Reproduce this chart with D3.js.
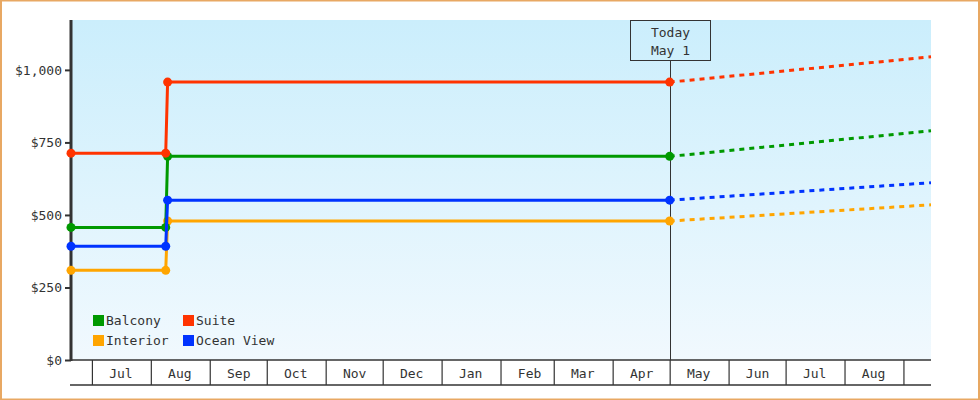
<!DOCTYPE html>
<html>
<meta charset="utf-8">
<style>
body { margin: 0; background: #fff; }
text { font-family: "DejaVu Sans Mono", monospace; font-size: 13px; fill: #333; }
</style>
<script src="https://d3js.org/d3.v7.min.js"></script>
<body>
<div id="chart"></div>
<script>
// price history per cabin type (step in early August) and projection past today
var seriesNames = ["Interior", "Balcony", "Ocean View", "Suite"];
var seriesColors = ["#ffa500", "#009900", "#0033ff", "#ff3300"];
var histDates = [new Date(2022, 5, 20), new Date(2022, 7, 8, 20), new Date(2022, 7, 9, 20), new Date(2023, 4, 1)];
var interiorVals = [309, 309, 479, 479];
var balconyVals = [457, 457, 702, 702];
var oceanVals = [392, 392, 551, 551];
var suiteVals = [713, 713, 958, 958];
var projEndVals = [535, 790, 611, 1045];
var yTicks = [0, 250, 500, 750, 1000];
var todayDate = new Date(2023, 4, 1);
var todayLabel = ["Today", "May 1"];
var legendOrder = ["Balcony", "Suite", "Interior", "Ocean View"];

var histVals = [interiorVals, balconyVals, oceanVals, suiteVals];

var W = 980, H = 400;
var pLeft = 71, pRight = 931, pTop = 20, pBottom = 360;
var startDate = new Date(2022, 5, 20), endDate = new Date(2023, 8, 15, 12);

var svg = d3.select("#chart").append("svg")
  .attr("width", W).attr("height", H);

var grad = svg.append("defs").append("linearGradient")
  .attr("id", "bg").attr("x1", 0).attr("y1", 0).attr("x2", 0).attr("y2", 1);
grad.append("stop").attr("offset", "0%").attr("stop-color", "#cbeefc");
grad.append("stop").attr("offset", "100%").attr("stop-color", "#f1f9fe");

svg.append("rect").attr("x", 1).attr("y", 0.5).attr("width", W - 2).attr("height", H - 1)
  .attr("fill", "#fff").attr("stroke", "#e8a863").attr("stroke-width", 2);

var x = d3.scaleTime().domain([startDate, endDate]).range([pLeft, pRight]);
var y = d3.scaleLinear().domain([0, 1172]).range([pBottom, pTop]);

svg.append("rect").attr("x", pLeft).attr("y", pTop)
  .attr("width", pRight - pLeft).attr("height", pBottom - pTop)
  .attr("fill", "url(#bg)");

// x axis: month separators + labels
var monthStarts = d3.timeMonth.range(new Date(2022, 6, 1), new Date(2023, 8, 2));
var midMonths = monthStarts.slice(0, -1).map(function(d) { return new Date(d.getFullYear(), d.getMonth(), 16); });

var xa = svg.append("g").attr("transform", "translate(0," + pBottom + ")")
  .call(d3.axisBottom(x).tickValues(monthStarts).tickSize(25).tickFormat(""));
xa.select(".domain").remove();
xa.selectAll(".tick line").attr("stroke", "#333").attr("stroke-width", 1.2);

var xl = svg.append("g").attr("transform", "translate(0," + pBottom + ")")
  .call(d3.axisBottom(x).tickValues(midMonths).tickSize(0).tickFormat(d3.timeFormat("%b")));
xl.select(".domain").remove();
xl.selectAll("text").attr("dy", null).attr("y", 18).style("font-family", "DejaVu Sans Mono, monospace").style("font-size", "13px").attr("fill", "#333");

svg.append("line").attr("x1", pLeft).attr("x2", pRight).attr("y1", pBottom).attr("y2", pBottom)
  .attr("stroke", "#333").attr("stroke-width", 1.5);
svg.append("line").attr("x1", pLeft - 1).attr("x2", pRight).attr("y1", pBottom + 25).attr("y2", pBottom + 25)
  .attr("stroke", "#333").attr("stroke-width", 1.5);

// y axis
var ya = svg.append("g").attr("transform", "translate(" + pLeft + ",0)")
  .call(d3.axisLeft(y).tickValues(yTicks).tickSize(6).tickPadding(3)
    .tickFormat(function(d) { return "$" + d3.format(",")(d); }));
ya.select(".domain").remove();
ya.selectAll(".tick line").attr("stroke", "#333").attr("stroke-width", 2);
ya.selectAll("text").style("font-family", "DejaVu Sans Mono, monospace").style("font-size", "13px").attr("fill", "#333");
svg.append("line").attr("x1", pLeft).attr("x2", pLeft).attr("y1", pTop).attr("y2", pBottom + 1)
  .attr("stroke", "#333").attr("stroke-width", 3);

// today marker
var tx = Math.round(x(todayDate));
svg.append("line").attr("x1", tx + 0.5).attr("x2", tx + 0.5)
  .attr("y1", pTop + 40).attr("y2", pBottom).attr("stroke", "#333").attr("stroke-width", 1);
svg.append("rect").attr("x", tx - 39.5).attr("y", pTop + 0.5)
  .attr("width", 80).attr("height", 40).attr("fill", "none").attr("stroke", "#333");
svg.selectAll(".todaytxt").data(todayLabel).enter().append("text")
  .attr("x", tx + 0.5).attr("y", function(d, i) { return 37 + i * 18; })
  .attr("text-anchor", "middle").text(function(d) { return d; });

// lines
var line = d3.line().x(function(d) { return x(d[0]); }).y(function(d) { return y(d[1]); });

seriesNames.forEach(function(name, i) {
  var pts = histDates.map(function(d, j) { return [d, histVals[i][j]]; });
  var proj = [[todayDate, histVals[i][3]], [endDate, projEndVals[i]]];
  svg.append("path").datum(proj).attr("d", line).attr("fill", "none")
    .attr("stroke", seriesColors[i]).attr("stroke-width", 3).attr("stroke-dasharray", "5,5");
  svg.append("path").datum(pts).attr("d", line).attr("fill", "none")
    .attr("stroke", seriesColors[i]).attr("stroke-width", 3);
  svg.selectAll(".pt" + i).data(pts).enter().append("circle")
    .attr("cx", function(d) { return x(d[0]); }).attr("cy", function(d) { return y(d[1]); })
    .attr("r", 4.5).attr("fill", seriesColors[i]);
});

// legend
var leg = svg.selectAll(".leg").data(legendOrder).enter().append("g")
  .attr("transform", function(d, i) { return "translate(" + (93 + (i % 2) * 90) + "," + (315 + Math.floor(i / 2) * 20) + ")"; });
leg.append("rect").attr("width", 11).attr("height", 11)
  .attr("fill", function(d) { return seriesColors[seriesNames.indexOf(d)]; });
leg.append("text").attr("x", 13).attr("y", 10).text(function(d) { return d; });
</script>
</body>
</html>
